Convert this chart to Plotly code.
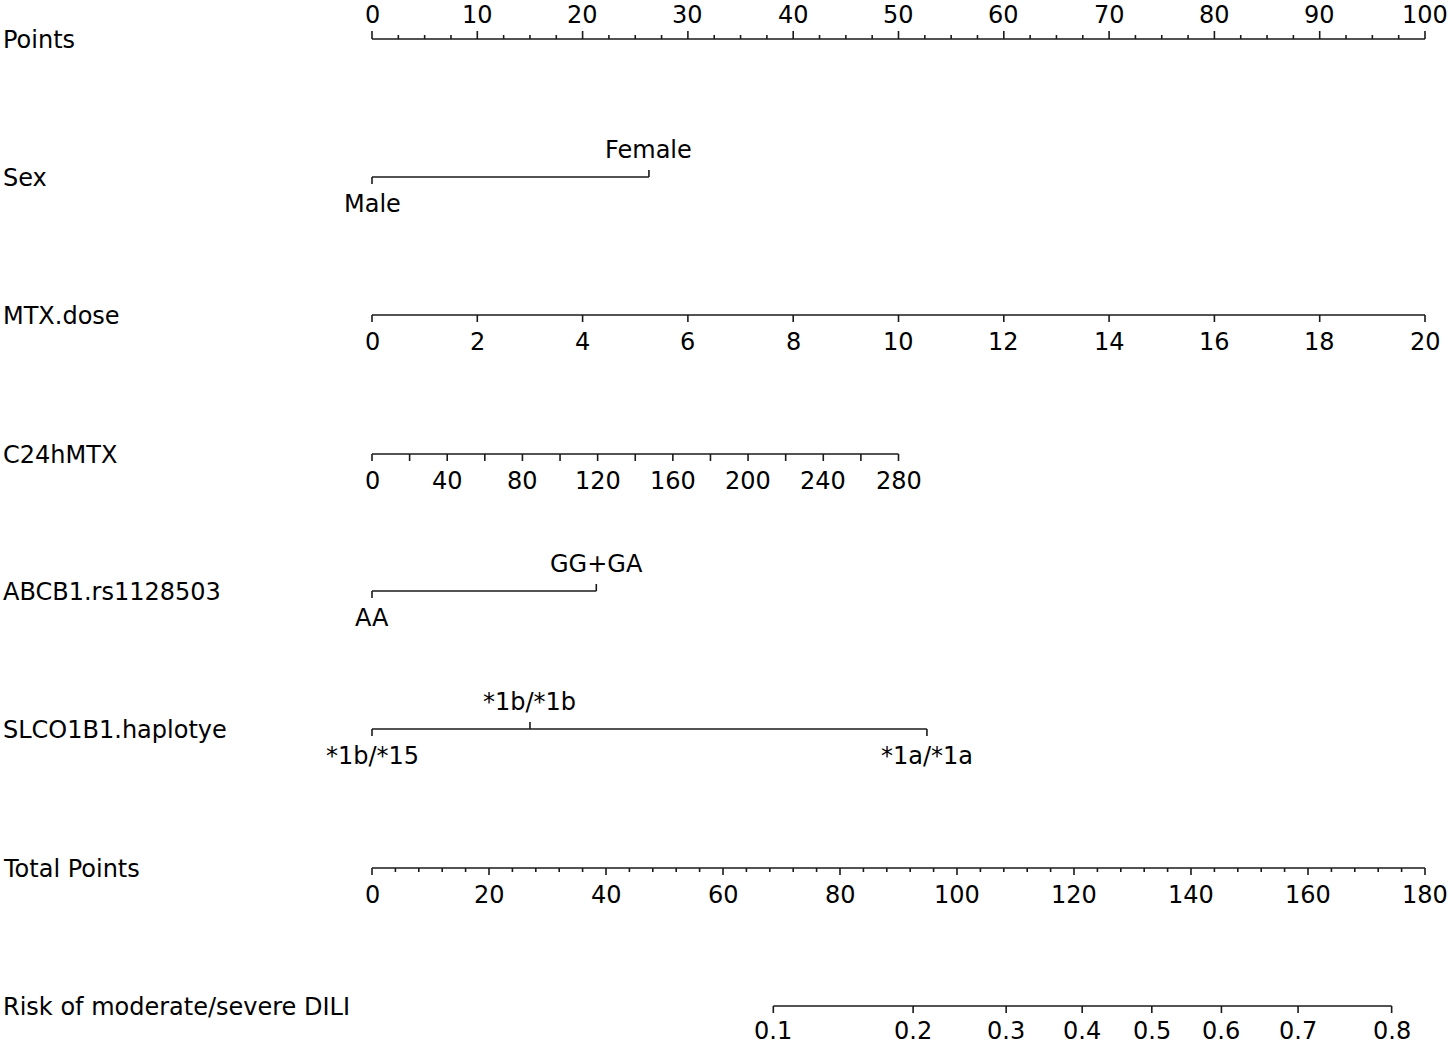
import plotly.graph_objects as go
import numpy as np

# ---------------- data ----------------
points_ticks = [0, 10, 20, 30, 40, 50, 60, 70, 80, 90, 100]
points_minor_step = 2.5

sex_levels = ["Male", "Female"]
sex_points = [0.0, 26.3]

mtx_ticks = [0, 2, 4, 6, 8, 10, 12, 14, 16, 18, 20]
mtx_max_value = 20
mtx_max_points = 100.0

c24_ticks = [0, 20, 40, 60, 80, 100, 120, 140, 160, 180, 200, 220, 240, 260, 280]
c24_labels = ["0", "", "40", "", "80", "", "120", "", "160", "", "200", "", "240", "", "280"]
c24_max_value = 280
c24_max_points = 50.0

abcb1_levels = ["AA", "GG+GA"]
abcb1_points = [0.0, 21.3]

slco_levels = ["*1b/*15", "*1b/*1b", "*1a/*1a"]
slco_points = [0.0, 15.0, 52.7]
slco_label_side = ["below", "above", "below"]

total_ticks = [0, 20, 40, 60, 80, 100, 120, 140, 160, 180]
total_minor_step = 4
total_max = 180

risk_labels = ["0.1", "0.2", "0.3", "0.4", "0.5", "0.6", "0.7", "0.8"]
risk_total_points = [68.6, 92.5, 108.4, 121.4, 133.3, 145.2, 158.3, 174.3]

row_names = ["Points", "Sex", "MTX.dose", "C24hMTX", "ABCB1.rs1128503",
             "SLCO1B1.haplotye", "Total Points", "Risk of moderate/severe DILI"]

# ---------------- layout constants ----------------
W, H = 1450, 1044
X0_PX, X100_PX = 372, 1425
PPP = (X100_PX - X0_PX) / 100.0          # pixels per point
ROW_Y = [39, 177, 315, 454, 591, 729, 868, 1006]
MAJ, MIN = 7, 4
LAB_OFF = 27
FONT = dict(family="DejaVu Sans", size=24, color="#000000")
LINE = dict(color="#1a1a1a", width=1.6)

xs, ys = [], []
annotations = []


def seg(x0, y0, x1, y1):
    xs.extend([x0, x1, None])
    ys.extend([y0, y1, None])


def label(x, y, text, anchor="center"):
    annotations.append(dict(x=x, y=y, xref="x", yref="y", text=text, showarrow=False,
                            xanchor=anchor, yanchor="middle", font=FONT))


def tot2pts(tp):
    return tp * 100.0 / total_max


# left row labels
for name, y in zip(row_names, ROW_Y):
    label((1 - X0_PX) / PPP, y + 1, name, anchor="left")

# Points axis (ticks up, labels above)
y = ROW_Y[0]
seg(points_ticks[0], y, points_ticks[-1], y)
for v in np.arange(points_ticks[0], points_ticks[-1] + 1e-9, points_minor_step):
    is_major = any(abs(v - t) < 1e-9 for t in points_ticks)
    seg(v, y, v, y - (MAJ + 1 if is_major else MIN))
for t in points_ticks:
    label(t, y - LAB_OFF + 3, str(t))


# categorical rows
def categorical(levels, pts, y, sides=None):
    seg(min(pts), y, max(pts), y)
    for i, (lev, p) in enumerate(zip(levels, pts)):
        side = sides[i] if sides else ("below" if i % 2 == 0 else "above")
        if side == "below":
            seg(p, y, p, y + MAJ)
            label(p, y + LAB_OFF, lev)
        else:
            seg(p, y, p, y - MAJ)
            label(p, y - LAB_OFF, lev)


categorical(sex_levels, sex_points, ROW_Y[1])

# MTX.dose
y = ROW_Y[2]
mtx_pts = [v * mtx_max_points / mtx_max_value for v in mtx_ticks]
seg(mtx_pts[0], y, mtx_pts[-1], y)
for v, p in zip(mtx_ticks, mtx_pts):
    seg(p, y, p, y + MAJ)
    label(p, y + LAB_OFF, str(v))

# C24hMTX
y = ROW_Y[3]
c24_pts = [v * c24_max_points / c24_max_value for v in c24_ticks]
seg(c24_pts[0], y, c24_pts[-1], y)
for lab, p in zip(c24_labels, c24_pts):
    seg(p, y, p, y + MAJ)
    if lab:
        label(p, y + LAB_OFF, lab)

categorical(abcb1_levels, abcb1_points, ROW_Y[4])
categorical(slco_levels, slco_points, ROW_Y[5], slco_label_side)

# Total Points
y = ROW_Y[6]
seg(tot2pts(total_ticks[0]), y, tot2pts(total_ticks[-1]), y)
for v in range(total_ticks[0], total_ticks[-1] + 1, total_minor_step):
    is_major = v in total_ticks
    seg(tot2pts(v), y, tot2pts(v), y + (MAJ if is_major else MIN))
for t in total_ticks:
    label(tot2pts(t), y + LAB_OFF, str(t))

# Risk
y = ROW_Y[7]
rp = [tot2pts(v) for v in risk_total_points]
seg(rp[0], y, rp[-1], y)
for lab, p in zip(risk_labels, rp):
    seg(p, y, p, y + MAJ)
    label(p, y + LAB_OFF - 2, lab)

fig = go.Figure(go.Scatter(x=xs, y=ys, mode="lines", line=LINE, hoverinfo="skip",
                           showlegend=False, cliponaxis=False))

fig.update_layout(
    width=W, height=H,
    margin=dict(l=0, r=0, t=0, b=0),
    paper_bgcolor="white", plot_bgcolor="white",
    xaxis=dict(range=[-X0_PX / PPP, (W - X0_PX) / PPP], visible=False, fixedrange=True),
    yaxis=dict(range=[H, 0], visible=False, fixedrange=True),
    annotations=annotations,
)

fig.write_html(
    "out.html",
    config={"displayModeBar": False},
    post_script="document.body.style.margin='0';document.body.style.overflow='hidden';"
                "document.documentElement.style.overflow='hidden';",
)
